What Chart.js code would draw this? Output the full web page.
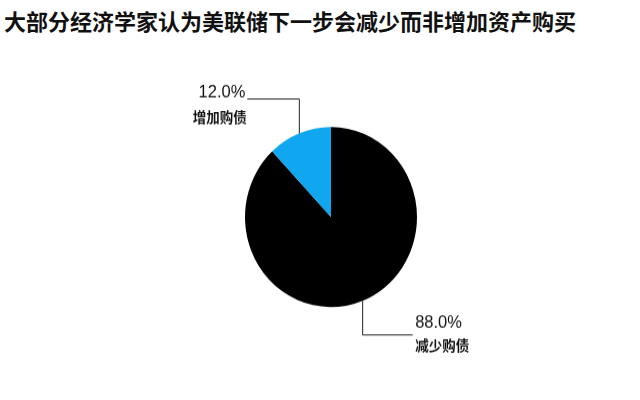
<!DOCTYPE html>
<html>
<head>
<meta charset="utf-8">
<script src="https://cdn.jsdelivr.net/npm/chart.js@4/dist/chart.umd.min.js"></script>
<style>
  html, body { margin: 0; padding: 0; background: #ffffff; }
  body { width: 640px; height: 400px; position: relative; overflow: hidden; }
  #title {
    position: absolute; left: 4px; top: 9px; margin: 0;
    font-family: "Noto Sans CJK SC", sans-serif; font-weight: 700;
    font-size: 22px; line-height: 22px; color: #111; white-space: nowrap;
  }
  #wrap {
    position: absolute; left: 0; top: 0; width: 640px; height: 382px;
    transform: scaleY(1.0471); transform-origin: 0 0;
  }
</style>
</head>
<body>
<div id="title">大部分经济学家认为美联储下一步会减少而非增加资产购买</div>
<div id="wrap"><canvas id="c" width="640" height="382"></canvas></div>
<script>
const categories = ['减少购债', '增加购债'];
const values = [88.0, 12.0];
const valueLabels = ['88.0%', '12.0%'];

const calloutPlugin = {
  id: 'callouts',
  afterDraw(chart, args, opts) {
    const ctx = chart.ctx;
    const meta = chart.getDatasetMeta(0);
    meta.data.forEach((arc, i) => {
      const p = arc.getProps(['x', 'y', 'startAngle', 'endAngle', 'outerRadius'], true);
      const mid = (p.startAngle + p.endAngle) / 2;
      const ex = p.x + p.outerRadius * Math.cos(mid);
      const ey = p.y + p.outerRadius * Math.sin(mid);
      const c = opts.items[i];
      const ly = ey + c.vLeg;
      const lx = ex + c.hLeg;
      ctx.save();
      ctx.strokeStyle = '#222';
      ctx.lineWidth = 1;
      ctx.beginPath();
      ctx.moveTo(ex, ey);
      ctx.lineTo(ex, ly);
      ctx.lineTo(lx, ly);
      ctx.stroke();
      const align = c.hLeg < 0 ? 'right' : 'left';
      ctx.textAlign = align;
      ctx.fillStyle = '#111';
      ctx.font = '400 16.5px "Liberation Sans", Arial, sans-serif';
      ctx.textBaseline = 'alphabetic';
      ctx.fillText(valueLabels[i], lx + c.tx, ly + c.t1);
      ctx.font = '700 13.5px "Noto Sans CJK SC", sans-serif';
      ctx.textBaseline = 'middle';
      ctx.fillText(categories[i], lx + c.tx2, ly + c.t2);
      ctx.restore();
    });
  }
};

new Chart(document.getElementById('c'), {
  type: 'pie',
  data: {
    labels: categories,
    datasets: [{
      data: values,
      backgroundColor: ['#000000', '#10a6f0'],
      borderWidth: 0
    }]
  },
  options: {
    responsive: false,
    animation: false,
    events: [],
    layout: { padding: { left: 245, right: 223, top: 121.3, bottom: 88.7 } },
    plugins: {
      legend: { display: false },
      tooltip: { enabled: false },
      title: { display: false },
      callouts: {
        items: [
          { vLeg: 32.6, hLeg: 50, tx: 2.5, t1: -6.4, tx2: 2.5, t2: 10 },
          { vLeg: -32.8, hLeg: -52, tx: -2, t1: -1.4, tx2: -0.5, t2: 17 }
        ]
      }
    }
  },
  plugins: [calloutPlugin]
});
</script>
</body>
</html>
